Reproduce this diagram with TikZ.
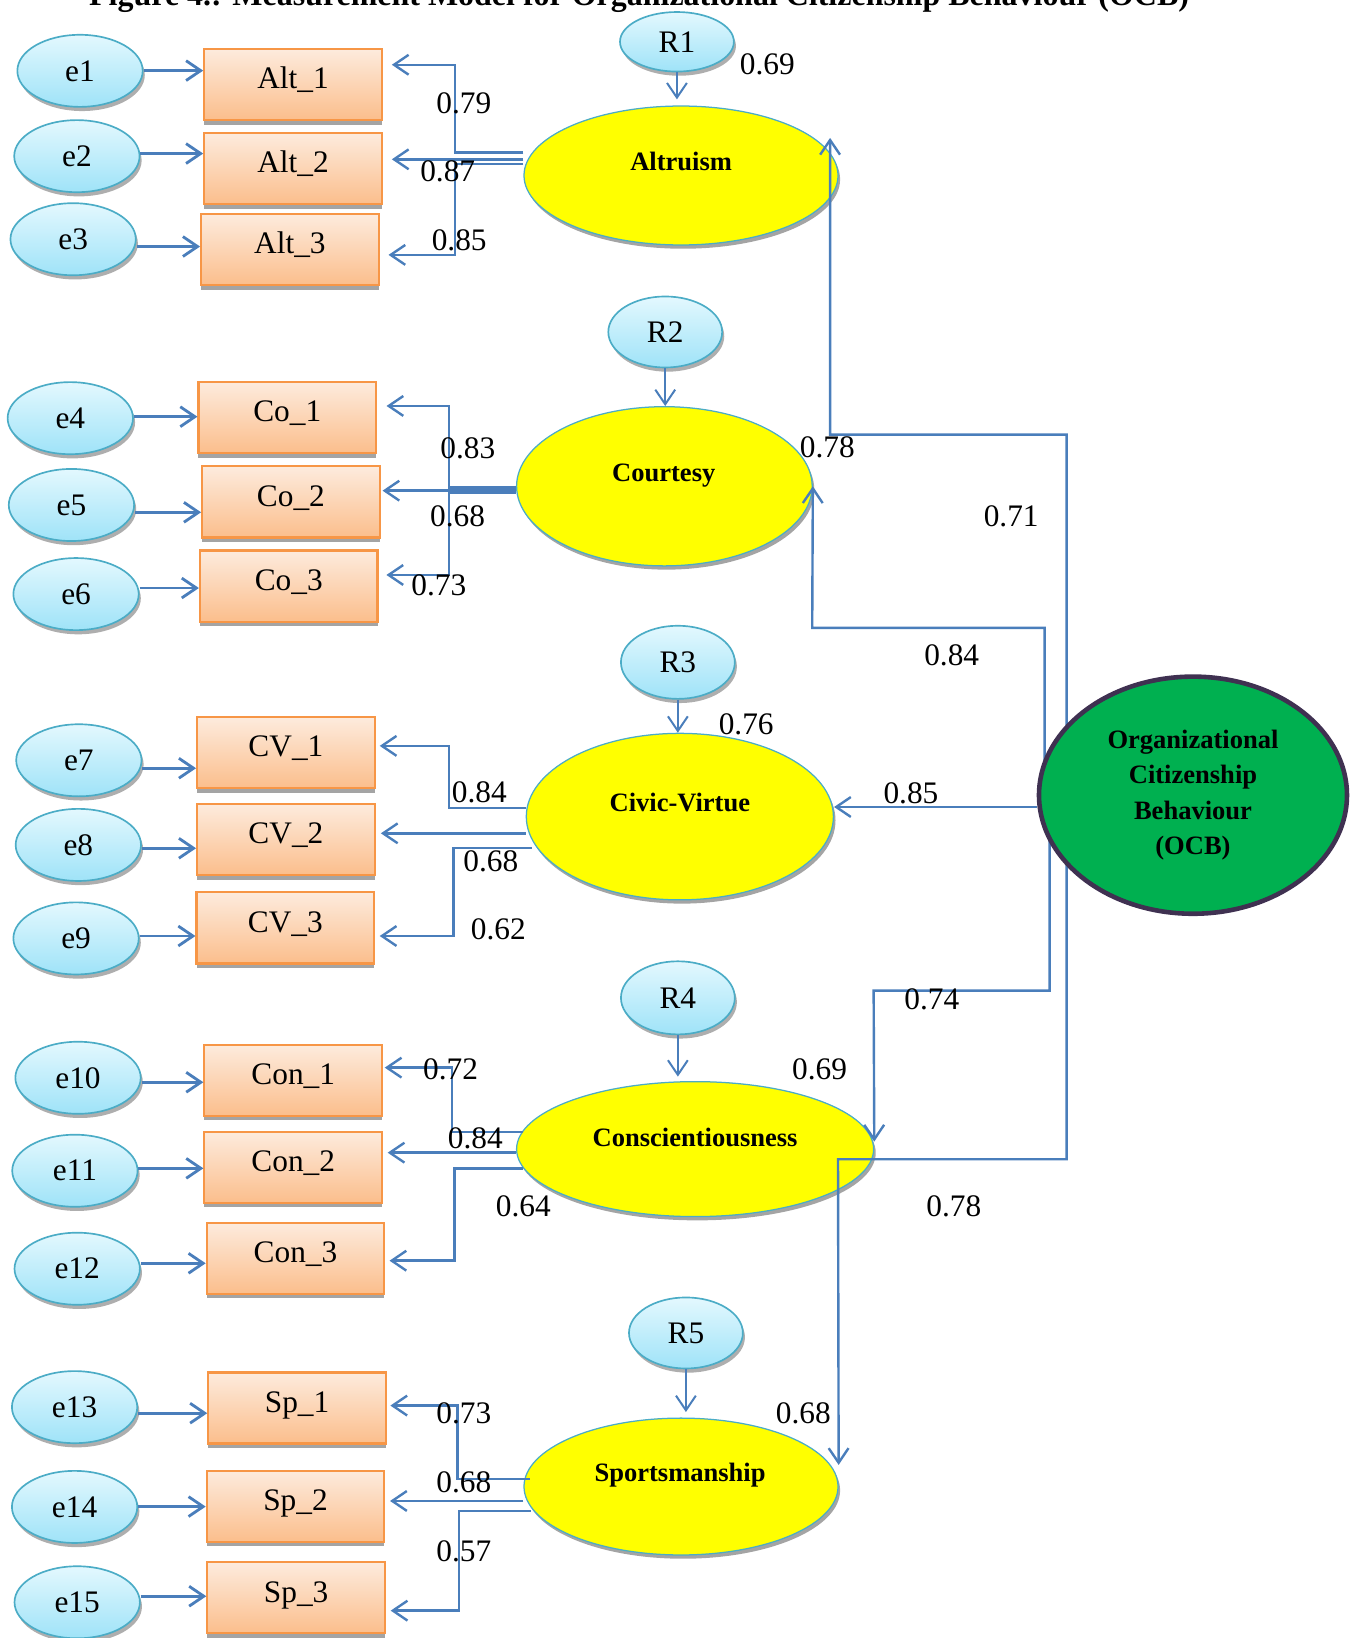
\documentclass[tikz,border=0pt]{standalone}
\usepackage{fontspec}
\setmainfont{Liberation Serif}
\usetikzlibrary{arrows.meta,shadows,calc,shapes.geometric}
\definecolor{lineblue}{HTML}{4A7EBB}
\definecolor{eborder}{HTML}{4BACC6}
\definecolor{etop}{HTML}{E3F8FE}
\definecolor{ebot}{HTML}{9FE3F8}
\definecolor{btop}{HTML}{FDEBDD}
\definecolor{bbot}{HTML}{FBBE8C}
\definecolor{bborder}{HTML}{F79646}
\definecolor{ocbgreen}{HTML}{00B050}
\definecolor{ocbborder}{HTML}{3F3151}
\definecolor{shadowgray}{HTML}{9A9A9A}
\definecolor{latyellow}{HTML}{FFFF00}
\pgfdeclarelayer{fg}
\pgfsetlayers{main,fg}
\tikzset{
  >={Straight Barb[length=7pt,width=9.5pt]},
  errnode/.style={ellipse, draw=eborder, line width=0.8pt, top color=etop, bottom color=ebot,
    minimum width=60pt, minimum height=34.5pt, inner sep=0pt, font=\fontsize{15}{18}\selectfont,
    drop shadow={shadow xshift=1pt, shadow yshift=-2pt, fill=shadowgray, opacity=0.8}},
  resnode/.style={errnode, minimum width=54.5pt, minimum height=34pt},
  indbox/.style={rectangle, draw=bborder, line width=1pt, top color=btop, bottom color=bbot,
    minimum width=85pt, minimum height=34pt, inner sep=0pt, text height=10pt, text depth=6pt,
    font=\fontsize{15}{18}\selectfont,
    drop shadow={shadow xshift=0pt, shadow yshift=-2.2pt, fill=shadowgray, opacity=0.9}},
  latent/.style={ellipse, draw=eborder, line width=0.6pt, fill=latyellow, inner sep=0pt,
    drop shadow={shadow xshift=1pt, shadow yshift=-1.8pt, fill=shadowgray, opacity=0.9}},
  lattext/.style={font=\bfseries\fontsize{12.7}{15}\selectfont, inner sep=0pt, text height=9pt, text depth=0pt},
  ocbnode/.style={ellipse, draw=ocbborder, line width=2.2pt, fill=ocbgreen, inner sep=0pt, align=center,
    font=\bfseries\fontsize{12.7}{16.85}\selectfont},
  coef/.style={font=\fontsize{15}{18}\selectfont, inner sep=0pt},
  earrow/.style={draw=lineblue, line width=1.35pt, ->},
  load/.style={draw=lineblue, line width=1.15pt, ->},
  rarrow/.style={draw=lineblue, line width=0.95pt, ->},
}
\begin{document}
\begin{tikzpicture}[x=0.5pt,y=-0.5pt]
\useasboundingbox (0,0) rectangle (1298,1568);

% title (cut off at the top, as in the source)
\node[font=\bfseries\fontsize{15.3}{18}\selectfont, anchor=base west, inner sep=0pt] (title) at (85,5)
  {Figure 4.: Measurement Model for Organizational Citizenship Behaviour (OCB)};

% error terms
\node[errnode] (e1) at (76.6,67.8) {e1};
\node[errnode] (e2) at (73.6,149.5) {e2};
\node[errnode] (e3) at (70,229) {e3};
\node[errnode] (e4) at (67.3,400.3) {e4};
\node[errnode] (e5) at (68.4,483.4) {e5};
\node[errnode] (e6) at (72.8,568.7) {e6};
\node[errnode] (e7) at (75.5,727.8) {e7};
\node[errnode] (e8) at (75,808.8) {e8};
\node[errnode] (e9) at (72.8,898.3) {e9};
\node[errnode] (e10) at (74.7,1031.7) {e10};
\node[errnode] (e11) at (71.7,1120.7) {e11};
\node[errnode] (e12) at (73.9,1214.5) {e12};
\node[errnode] (e13) at (71.4,1347) {e13};
\node[errnode] (e14) at (71.4,1442.5) {e14};
\node[errnode] (e15) at (73.9,1533.8) {e15};

% indicators
\node[indbox] (Alt1) at (280.5,80.8) {Alt\_1};
\node[indbox] (Alt2) at (280.5,161.5) {Alt\_2};
\node[indbox] (Alt3) at (277.5,239) {Alt\_3};
\node[indbox] (Co1) at (275,399.7) {Co\_1};
\node[indbox] (Co2) at (278.5,480.5) {Co\_2};
\node[indbox] (Co3) at (276.4,561) {Co\_3};
\node[indbox] (CV1) at (273.7,720.6) {CV\_1};
\node[indbox] (CV2) at (273.7,803.6) {CV\_2};
\node[indbox] (CV3) at (273.1,888.3) {CV\_3};
\node[indbox] (Con1) at (280.7,1034) {Con\_1};
\node[indbox] (Con2) at (280.7,1117.3) {Con\_2};
\node[indbox] (Con3) at (282.9,1204.5) {Con\_3};
\node[indbox] (Sp1) at (284.4,1347.8) {Sp\_1};
\node[indbox] (Sp2) at (282.9,1441.8) {Sp\_2};
\node[indbox] (Sp3) at (283.5,1529.6) {Sp\_3};

% residuals
\node[resnode, minimum height=28.5pt] (R1) at (648,40) {R1};
\node[resnode] (R2) at (636.8,317.8) {R2};
\node[resnode, minimum height=35pt] (R3) at (648.9,634) {R3};
\node[resnode, minimum height=35pt] (R4) at (648.9,955.2) {R4};
\node[resnode] (R5) at (656.6,1276) {R5};

% latent factors
\node[latent, minimum width=150.3pt, minimum height=66.5pt] (Alt) at (651.9,168) {};
\node[latent, minimum width=141.5pt, minimum height=76.2pt] (Cou) at (636,465.5) {};
\node[latent, minimum width=147pt, minimum height=79.7pt] (CV) at (650.8,781.7) {};
\node[latent, minimum width=170.9pt, minimum height=64.6pt] (Con) at (665.4,1100) {};
\node[latent, minimum width=150.3pt, minimum height=65.5pt] (Sp) at (651.9,1423) {};
\node[lattext] (AltT) at (652,154) {Altruism};
\node[lattext] (CouT) at (635.4,452) {Courtesy};
\node[lattext] (CVT) at (650.8,768.2) {Civic-Virtue};
\node[lattext] (ConT) at (665.4,1088.8) {Conscientiousness};
\node[lattext] (SpT) at (651,1409) {Sportsmanship};

% second-order factor (on top of its connectors)
\begin{pgfonlayer}{fg}
\node[ocbnode, minimum width=147.4pt, minimum height=113.5pt] (OCB) at (1142,761.2)
  {Organizational\\Citizenship\\Behaviour\\(OCB)};
\end{pgfonlayer}

% error -> indicator
\draw[earrow] (e1.east |- 0,67.6) -- (Alt1.west |- 0,67.6);
\draw[earrow] (e2.east |- 0,147) -- (Alt2.west |- 0,147);
\draw[earrow] (e3.east |- 0,236) -- (Alt3.west |- 0,236);
\draw[earrow] (e4.east |- 0,398.9) -- (Co1.west |- 0,398.9);
\draw[earrow] (e5.east |- 0,490.4) -- (Co2.west |- 0,490.4);
\draw[earrow] (e6.east |- 0,562.9) -- (Co3.west |- 0,562.9);
\draw[earrow] (e7.east |- 0,735.4) -- (CV1.west |- 0,735.4);
\draw[earrow] (e8.east |- 0,812) -- (CV2.west |- 0,812);
\draw[earrow] (e9.east |- 0,896) -- (CV3.west |- 0,896);
\draw[earrow] (e10.east |- 0,1036) -- (Con1.west |- 0,1036);
\draw[earrow] (e11.east |- 0,1118.4) -- (Con2.west |- 0,1118.4);
\draw[earrow] (e12.east |- 0,1209.3) -- (Con3.west |- 0,1209.3);
\draw[earrow] (e13.east |- 0,1352.8) -- (Sp1.west |- 0,1352.8);
\draw[earrow] (e14.east |- 0,1442.2) -- (Sp2.west |- 0,1442.2);
\draw[earrow] (e15.east |- 0,1528) -- (Sp3.west |- 0,1528);

% loadings: Altruism
\draw[load, shorten >=4.3pt] (Alt.west |- 0,146) -| (435.7,62) -- (Alt1.east |- 0,62);
\draw[load, shorten >=4.3pt] (Alt.west |- 0,152.5) -- (Alt2.east |- 0,152.5);
\draw[load, shorten >=4.2pt] (Alt.west |- 0,157) -| (435.7,244) -- (Alt3.east |- 0,244);
% Courtesy
\draw[load, shorten >=4.5pt] (Cou.west |- 0,466.5) -| (430,388.6) -- (Co1.east |- 0,388.6);
\draw[load, shorten >=0.85pt] (Cou.west |- 0,469.7) -- (Co2.east |- 0,469.7);
\draw[load, shorten >=3.75pt] (Cou.west |- 0,472) -| (430,550.4) -- (Co3.east |- 0,550.4);
% Civic-Virtue
\draw[load, shorten >=1.9pt] (CV.west |- 0,773.7) -| (430,714) -- (CV1.east |- 0,714);
\draw[load, shorten >=2.45pt] (CV.west |- 0,797.7) -- (CV2.east |- 0,797.7);
\draw[load, shorten >=2.2pt] ($(CV.west |- 0,812)+(6,0)$) -| (434,896) -- (CV3.east |- 0,896);
% Conscientiousness
\draw[load, shorten >=0.8pt] ($(Con.west |- 0,1083.6)+(7,0)$) -| (432.4,1022) -- (Con1.east |- 0,1022);
\draw[load, shorten >=2.2pt] (Con.west |- 0,1103.4) -- (Con2.east |- 0,1103.4);
\draw[load, shorten >=2pt] ($(Con.west |- 0,1118.4)+(7,0)$) -| (435,1206.8) -- (Con3.east |- 0,1206.8);
% Sportsmanship
\draw[load, shorten >=1.65pt] ($(Sp.west |- 0,1416)+(6,0)$) -| (438,1345.5) -- (Sp1.east |- 0,1345.5);
\draw[load, shorten >=2.25pt] (Sp.west |- 0,1436.8) -- (Sp2.east |- 0,1436.8);
\draw[load, shorten >=2.25pt] ($(Sp.west |- 0,1446.4)+(7,0)$) -| (439.6,1541.8) -- (Sp3.east |- 0,1541.8);

% residual -> factor
\draw[rarrow, shorten >=2.9pt] (R1.south) -- (R1.south |- Alt.north);
\draw[rarrow] (R2.south) -- (R2.south |- Cou.north);
\draw[rarrow] (R3.south) -- (R3.south |- CV.north);
\draw[rarrow, shorten >=2.1pt] (R4.south) -- (R4.south |- Con.north);
\draw[rarrow, shorten >=2.6pt] (R5.south) -- (R5.south |- Sp.north);

% OCB -> factors
\draw[load] (OCB.center -| 1021,0) |- (794.6,416) -- ($(Alt.center)+(142.7,-36)$);
\draw[load] (OCB.center -| 1000,0) |- (777.5,601) -- (Cou.east);
\draw[load] (OCB.west |- 0,772.5) -- (CV.east |- 0,772.5);
\draw[load] (OCB.center -| 1004.7,0) |- (836.3,948.3) -- ($(Con.east)+(0,-7.2)$);
\draw[load] (OCB.center -| 1021,0) |- (802.2,1109.7) -- ($(Sp.east)+(0,-20.7)$);

% coefficients
\node[coef] (c1) at (444,99) {0.79};
\node[coef] (c2) at (428.6,164) {0.87};
\node[coef] (c3) at (439.6,230) {0.85};
\node[coef] (c4) at (734.6,62) {0.69};
\node[coef] (c5) at (447.8,429) {0.83};
\node[coef] (c6) at (438,494.6) {0.68};
\node[coef] (c7) at (420,560) {0.73};
\node[coef] (c8) at (792,428) {0.78};
\node[coef] (c9) at (458.8,758.7) {0.84};
\node[coef] (c10) at (469.8,824.6) {0.68};
\node[coef] (c11) at (477,890) {0.62};
\node[coef] (c12) at (714.3,693) {0.76};
\node[coef] (c13) at (968,494) {0.71};
\node[coef] (c14) at (911,627) {0.84};
\node[coef] (c15) at (872,759) {0.85};
\node[coef] (c16) at (892,957) {0.74};
\node[coef] (c17) at (913,1155) {0.78};
\node[coef] (c18) at (431.3,1023.6) {0.72};
\node[coef] (c19) at (455,1089.6) {0.84};
\node[coef] (c20) at (501,1155) {0.64};
\node[coef] (c21) at (784.6,1023.6) {0.69};
\node[coef] (c22) at (444,1352.8) {0.73};
\node[coef] (c23) at (444,1419) {0.68};
\node[coef] (c24) at (444,1485.3) {0.57};
\node[coef] (c25) at (769,1352.8) {0.68};
\end{tikzpicture}
\end{document}
